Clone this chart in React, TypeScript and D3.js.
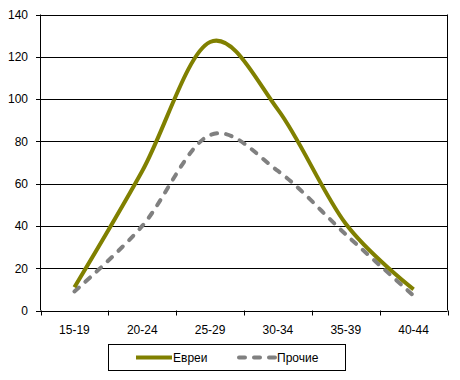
import React from "react";
import * as d3 from "d3";

const categories = ["15-19", "20-24", "25-29", "30-34", "35-39", "40-44"];
const evrei = [11, 66, 127, 95, 41, 10];
const prochie = [9, 40, 83, 66, 36, 7];
const yTicks = [0, 20, 40, 60, 80, 100, 120, 140];
const seriesNames = ["Евреи", "Прочие"];

const W = 460;
const H = 380;
const left = 40.5;
const right = 447.5;
const top = 14.5;
const bottom = 310.5;
const font = "Liberation Sans, Arial, sans-serif";

export default function App() {
  const x = d3.scalePoint<string>().domain(categories).range([left, right]).padding(0.5);
  const band = d3.scaleBand<string>().domain(categories).range([left, right]);
  const y = d3.scaleLinear().domain([0, 140]).range([bottom, top]);

  const line = d3
    .line<number>()
    .x((_, i) => x(categories[i]) as number)
    .y((d) => y(d))
    .curve(d3.curveCardinal.tension(0));

  const boundaries = [...categories.map((c) => band(c) as number), right];

  return (
    <svg
      width={W}
      height={H}
      style={{ position: "absolute", left: 0, top: 0, background: "#fff" }}
      fontFamily={font}
    >
      <rect x={0} y={0} width={W} height={H} fill="#fff" />
      {yTicks.map((t) => (
        <g key={t}>
          <line x1={36} x2={right} y1={Math.round(y(t)) + 0.5} y2={Math.round(y(t)) + 0.5} stroke="#000" strokeWidth={1} />
          <text x={28} y={y(t)} dy="0.36em" textAnchor="end" fontSize={12} fill="#000">
            {t}
          </text>
        </g>
      ))}
      <line x1={left} x2={left} y1={top} y2={bottom} stroke="#000" />
      <line x1={right} x2={right} y1={top} y2={bottom} stroke="#000" />
      {boundaries.map((b, i) => (
        <line key={i} x1={Math.round(b) + 0.5} x2={Math.round(b) + 0.5} y1={bottom} y2={bottom + 5} stroke="#000" />
      ))}
      {categories.map((c) => (
        <text key={c} x={x(c)} y={334} textAnchor="middle" fontSize={12} fill="#000">
          {c}
        </text>
      ))}
      <path d={line(prochie) || ""} fill="none" stroke="#808080" strokeWidth={4} strokeDasharray="6 9" strokeLinecap="round" />
      <path d={line(evrei) || ""} fill="none" stroke="#808000" strokeWidth={4} />
      <rect x={108.5} y={344.5} width={237} height={26} fill="#fff" stroke="#000" />
      <line x1={136} x2={172} y1={357.5} y2={357.5} stroke="#808000" strokeWidth={4} />
      <text x={173} y={362} fontSize={12} fill="#000">{seriesNames[0]}</text>
      <line x1={239} x2={275} y1={357.5} y2={357.5} stroke="#808080" strokeWidth={4} strokeDasharray="6 9" strokeLinecap="round" />
      <text x={277} y={362} fontSize={12} fill="#000">{seriesNames[1]}</text>
    </svg>
  );
}
